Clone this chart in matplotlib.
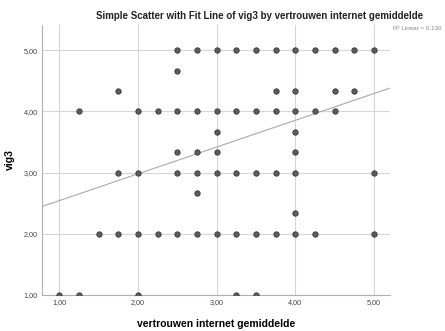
import matplotlib
matplotlib.use("Agg")
import matplotlib.pyplot as plt
import numpy as np

plt.rcParams["font.family"] = ["Liberation Sans", "DejaVu Sans"]

# Observed (x, y) combinations, grouped by vig3 level
x_500 = [2.5, 2.75, 3.0, 3.25, 3.5, 3.75, 4.0, 4.25, 4.5, 4.75, 5.0]
x_467 = [2.5]
x_433 = [1.75, 3.75, 4.0, 4.5, 4.75]
x_400 = [1.25, 2.0, 2.25, 2.5, 2.75, 3.0, 3.25, 3.5, 3.75, 4.0, 4.25, 4.5]
x_367 = [3.0, 4.0]
x_333 = [2.5, 2.75, 3.0, 4.0]
x_300 = [1.75, 2.0, 2.5, 2.75, 3.0, 3.25, 3.5, 3.75, 4.0, 5.0]
x_267 = [2.75]
x_233 = [4.0]
x_200 = [1.5, 1.75, 2.0, 2.25, 2.5, 2.75, 3.0, 3.25, 3.5, 3.75, 4.0, 4.25, 5.0]
x_100 = [1.0, 1.25, 2.0, 3.25, 3.5]

groups = [
    (5.0, x_500), (14 / 3, x_467), (13 / 3, x_433), (4.0, x_400),
    (11 / 3, x_367), (10 / 3, x_333), (3.0, x_300), (8 / 3, x_267),
    (7 / 3, x_233), (2.0, x_200), (1.0, x_100),
]

# Linear fit line
fit_intercept = 2.103
fit_slope = 0.438
r_squared = 0.130

xticks = [1.0, 2.0, 3.0, 4.0, 5.0]
yticks = [1.0, 2.0, 3.0, 4.0, 5.0]

def fmt(v):
    return f"{v:.2f}".replace(".", ",")

xs = np.concatenate([np.array(xv) for _, xv in groups])
ys = np.concatenate([np.full(len(xv), yv) for yv, xv in groups])

fig = plt.figure(figsize=(4.45, 3.31), dpi=100)
ax = fig.add_axes([0.094, 0.109, 0.782, 0.815])

ax.set_xlim(0.78, 5.2)
ax.set_ylim(1.0, 5.41)

ax.set_xticks(xticks)
ax.set_yticks(yticks)
ax.set_xticklabels([fmt(v) for v in xticks], fontsize=5.2, color="#444444")
ax.set_yticklabels([fmt(v) for v in yticks], fontsize=5.2, color="#444444")
ax.tick_params(length=0, pad=3)

ax.grid(True, color="#d6d6d6", linewidth=0.8)
ax.set_axisbelow(True)
for side in ("top", "right"):
    ax.spines[side].set_visible(False)
for side in ("left", "bottom"):
    ax.spines[side].set_color("#b0b0b0")
    ax.spines[side].set_linewidth(0.8)

line_x = np.array(ax.get_xlim())
ax.plot(line_x, fit_intercept + fit_slope * line_x, color="#aaaaaa", linewidth=0.8, zorder=2)

ax.scatter(xs, ys, s=15, facecolor="#5c5c5c", edgecolor="#383838", linewidth=0.6, zorder=3)

ax.set_xlabel("vertrouwen internet gemiddelde", fontsize=7.5, fontweight="bold", labelpad=9)
ax.set_ylabel("vig3", fontsize=7.5, fontweight="bold", labelpad=6)

fig.text(0.584, 0.953, "Simple Scatter with Fit Line of vig3 by vertrouwen internet gemiddelde",
         ha="center", va="center", fontsize=7.0, fontweight="bold", color="#222222")
fig.text(0.883, 0.914, "R² Linear = " + f"{r_squared:.3f}".replace(".", ","),
         ha="left", va="center", fontsize=4.5, color="#888888")

fig.savefig("out.png", dpi=100)
